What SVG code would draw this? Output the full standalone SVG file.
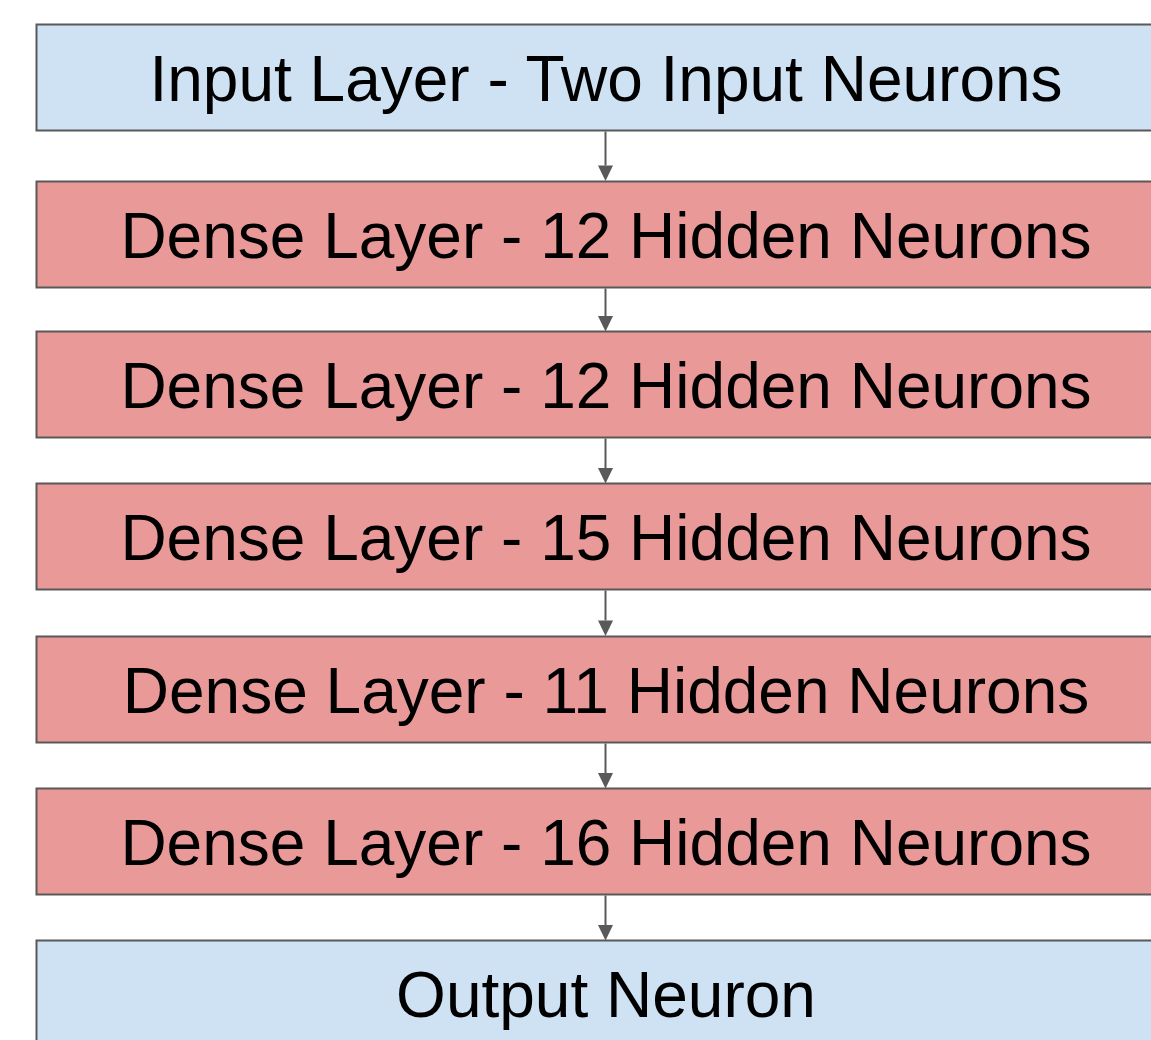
<svg xmlns="http://www.w3.org/2000/svg" width="1151" height="1040" viewBox="0 0 1151 1040">
<style>
.box{stroke:#595959;stroke-width:2}
.blue{fill:#cfe2f3}
.red{fill:#ea9999}
.lbl{font-family:"Liberation Sans",Arial,sans-serif;font-size:64px;fill:#000;text-anchor:middle}
.conn{stroke:#595959;stroke-width:2;fill:none}
</style>
<defs>
<marker id="ah" markerWidth="8" markerHeight="8" refX="8" refY="4" orient="auto" markerUnits="userSpaceOnUse" viewBox="0 0 8 8">
<path d="M0,0 L8,4 L0,8 z" fill="#595959"/>
</marker>
</defs>
<rect width="1151" height="1040" fill="#fff"/>
<g id="connectors">
<line class="conn" x1="605.5" y1="131.5" x2="605.5" y2="165.5"/>
<path d="M598,165.5 L613,165.5 L605.5,181 z" fill="#595959"/>
<line class="conn" x1="605.5" y1="288.5" x2="605.5" y2="316"/>
<path d="M598,316 L613,316 L605.5,331.5 z" fill="#595959"/>
<line class="conn" x1="605.5" y1="438.5" x2="605.5" y2="468"/>
<path d="M598,468 L613,468 L605.5,483.5 z" fill="#595959"/>
<line class="conn" x1="605.5" y1="590.5" x2="605.5" y2="620.5"/>
<path d="M598,620.5 L613,620.5 L605.5,636 z" fill="#595959"/>
<line class="conn" x1="605.5" y1="743.5" x2="605.5" y2="773"/>
<path d="M598,773 L613,773 L605.5,788.5 z" fill="#595959"/>
<line class="conn" x1="605.5" y1="895.5" x2="605.5" y2="925"/>
<path d="M598,925 L613,925 L605.5,940.5 z" fill="#595959"/>
</g>
<g id="input">
<rect class="box blue" x="36.5" y="24.5" width="1130" height="106"/>
<text class="lbl" x="606" y="100.5">Input Layer - Two Input Neurons</text>
</g>
<g id="dense1">
<rect class="box red" x="36.5" y="181.5" width="1130" height="106"/>
<text class="lbl" x="606" y="257.5">Dense Layer - 12 Hidden Neurons</text>
</g>
<g id="dense2">
<rect class="box red" x="36.5" y="331.5" width="1130" height="106"/>
<text class="lbl" x="606" y="407.5">Dense Layer - 12 Hidden Neurons</text>
</g>
<g id="dense3">
<rect class="box red" x="36.5" y="483.5" width="1130" height="106"/>
<text class="lbl" x="606" y="559.5">Dense Layer - 15 Hidden Neurons</text>
</g>
<g id="dense4">
<rect class="box red" x="36.5" y="636.5" width="1130" height="106"/>
<text class="lbl" x="606" y="712.5">Dense Layer - 11 Hidden Neurons</text>
</g>
<g id="dense5">
<rect class="box red" x="36.5" y="788.5" width="1130" height="106"/>
<text class="lbl" x="606" y="864.5">Dense Layer - 16 Hidden Neurons</text>
</g>
<g id="output">
<rect class="box blue" x="36.5" y="940.5" width="1130" height="106"/>
<text class="lbl" x="606" y="1016.5">Output Neuron</text>
</g>
</svg>
